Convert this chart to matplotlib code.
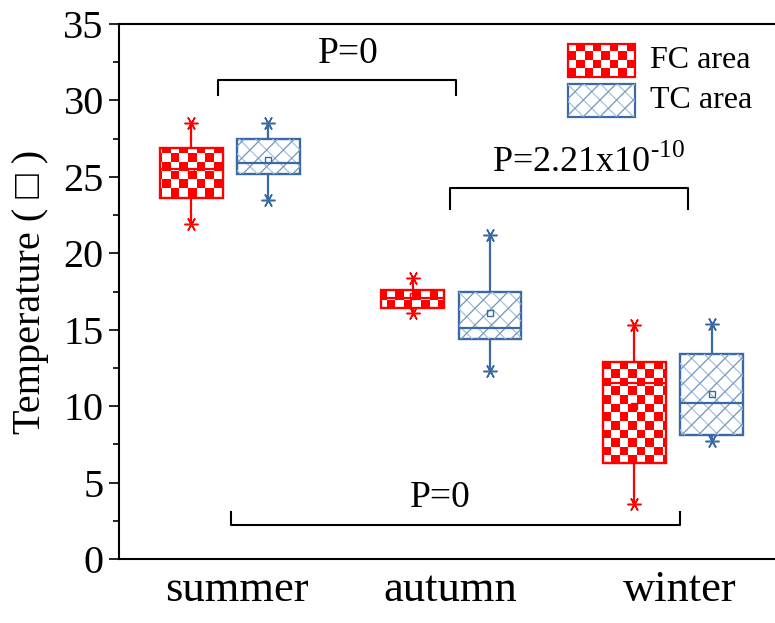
import numpy as np
import matplotlib
matplotlib.use("Agg")
import matplotlib.pyplot as plt
from matplotlib.patches import Rectangle, PathPatch
from matplotlib.colors import ListedColormap

plt.rcParams['font.family'] = ['Liberation Serif', 'DejaVu Serif']
plt.rcParams['mathtext.fontset'] = 'custom'
plt.rcParams['mathtext.rm'] = 'Liberation Serif'
plt.rcParams['hatch.linewidth'] = 0.9

categories = ['summer', 'autumn', 'winter']
series = ['FC area', 'TC area']

fc_q1 = [23.6, 16.4, 6.3]
fc_q3 = [26.9, 17.6, 12.9]
fc_med = [25.5, 17.1, 11.5]
fc_mean = [25.3, 17.2, 10.0]
fc_lo = [21.9, 16.1, 3.6]
fc_hi = [28.5, 18.4, 15.3]

tc_q1 = [25.2, 14.4, 8.1]
tc_q3 = [27.45, 17.5, 13.4]
tc_med = [25.9, 15.1, 10.2]
tc_mean = [26.1, 16.1, 10.8]
tc_lo = [23.5, 12.3, 7.7]
tc_hi = [28.5, 21.2, 15.35]

sig_labels = ['P=0', r'P=2.21x10$^{\text{-10}}$', 'P=0']

RED = '#ff0000'
BLUE = '#3a6aa3'
HATCH1 = '#6f95c0'
HATCH2 = '#a9c0db'

fig = plt.figure(figsize=(7.75, 6.23), dpi=100)
ax = fig.add_axes([119/775, (623-559)/623, (775-119)/775, 535/623])

XLIM = (0.5, 3.46)
YLIM = (0, 35)
off = 0.174
bw = 0.284
pos = np.arange(1, len(categories) + 1)

def stats(q1, q3, med, mean, lo, hi):
    out = []
    for i in range(len(q1)):
        out.append(dict(q1=q1[i], q3=q3[i], med=med[i], mean=mean[i],
                        whislo=lo[i], whishi=hi[i], fliers=[lo[i], hi[i]]))
    return out

def draw(st, positions, color):
    return ax.bxp(st, positions=positions, widths=bw, patch_artist=True,
                  showmeans=True, showcaps=False, showfliers=True,
                  boxprops=dict(facecolor='white', edgecolor=color, linewidth=1.7, zorder=3),
                  medianprops=dict(color=color, linewidth=1.6, zorder=4),
                  whiskerprops=dict(color=color, linewidth=1.6),
                  meanprops=dict(marker='s', markerfacecolor='none', markeredgecolor=color,
                                 markersize=5, markeredgewidth=1.0, zorder=5),
                  flierprops=dict(marker=(6, 2, 90), markeredgecolor=color,
                                  markersize=10, markeredgewidth=1.1, linestyle='none'))

bfc = draw(stats(fc_q1, fc_q3, fc_med, fc_mean, fc_lo, fc_hi), pos - off, RED)
btc = draw(stats(tc_q1, tc_q3, tc_med, tc_mean, tc_lo, tc_hi), pos + off, BLUE)

# checkerboard fill for FC boxes
ncol, nrow = 76, 62
cb = (np.add.outer(np.arange(nrow), np.arange(ncol)) % 2).astype(float)
cmap = ListedColormap(['white', RED])
for b in bfc['boxes']:
    b.set_facecolor('none')
    im = ax.imshow(cb, extent=(XLIM[0], XLIM[1], YLIM[0], YLIM[1]), aspect='auto',
                   interpolation='nearest', cmap=cmap, zorder=2.5)
    im.set_clip_path(b)

# hatch fill for TC boxes
for b in btc['boxes']:
    ax.add_patch(PathPatch(b.get_path(), facecolor='none', edgecolor=HATCH2, linewidth=0,
                           hatch='\\\\', zorder=3.4))
    ax.add_patch(PathPatch(b.get_path(), facecolor='none', edgecolor=HATCH1, linewidth=0,
                           hatch='//', zorder=3.5))

ax.set_xlim(*XLIM)
ax.set_ylim(*YLIM)

def bracket(x0, x1, y, h, label, tx, ty, ha='center', fs=27):
    ax.plot([x0, x0, x1, x1], [y - h, y, y, y - h], color='black', lw=1.5)
    ax.text(tx, ty, label, ha=ha, va='bottom', fontsize=fs)

bracket(0.946, 2.02, 31.35, 1.0, sig_labels[0], 1.533, 31.9)
bracket(1.993, 3.068, 24.28, 1.4, sig_labels[1], 2.183, 24.8, ha='left', fs=26)
bracket(1.005, 3.03, 2.2, -0.85, sig_labels[2], 1.948, 2.9)

# legend (manual, with pattern fills)
lx0, lx1 = 0.6845, 0.7866
rows = [(0.9009, 0.9626), (0.8262, 0.8879)]
r1 = Rectangle((lx0, rows[0][0]), lx1 - lx0, rows[0][1] - rows[0][0], transform=ax.transAxes,
               facecolor='none', edgecolor=RED, lw=1.6, zorder=6)
ax.add_patch(r1)
nc, nr = 8, 4
cbl = (np.add.outer(np.arange(nr), np.arange(nc)) % 2).astype(float)
iml = ax.imshow(cbl, extent=(lx0, lx1, rows[0][0], rows[0][1]), transform=ax.transAxes,
                aspect='auto', interpolation='nearest', cmap=cmap, zorder=5)
iml.set_clip_path(r1)
r2 = Rectangle((lx0, rows[1][0]), lx1 - lx0, rows[1][1] - rows[1][0], transform=ax.transAxes,
               facecolor='white', edgecolor=BLUE, lw=1.6, zorder=6)
ax.add_patch(r2)
for hc, hh in [(HATCH2, '\\\\'), (HATCH1, '//')]:
    ax.add_patch(Rectangle((lx0, rows[1][0]), lx1 - lx0, rows[1][1] - rows[1][0],
                           transform=ax.transAxes, facecolor='none', edgecolor=hc, lw=0,
                           hatch=hh, zorder=6))
for (y0, y1), s in zip(rows, series):
    ax.text(0.8095, (y0 + y1) / 2, s, transform=ax.transAxes, ha='left', va='center', fontsize=23)

ax.set_xlim(*XLIM)
ax.set_ylim(*YLIM)

ax.spines['right'].set_visible(False)
for s in ['left', 'bottom', 'top']:
    ax.spines[s].set_linewidth(1.5)
ax.set_yticks(np.arange(0, 36, 5))
ax.set_yticks(np.arange(2.5, 35, 5), minor=True)
ax.tick_params(axis='y', which='major', direction='out', length=7, width=1.2, labelsize=29, pad=4)
ax.tick_params(axis='y', which='minor', direction='out', length=4.5, width=1.2)
ax.set_xticks([1.03, 1.995, 3.03])
ax.set_xticklabels(categories)
ax.tick_params(axis='x', which='both', length=0, labelsize=32, pad=8)
ax.set_ylabel('Temperature ( \u25a1 )', fontsize=29, labelpad=10)

fig.savefig('out.png', dpi=100)
